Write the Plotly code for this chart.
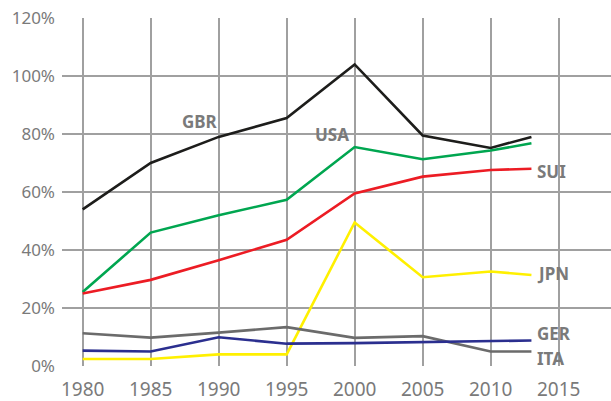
import plotly.graph_objects as go

years = [1980, 1985, 1990, 1995, 2000, 2005, 2010, 2013]
gbr = [54, 70, 79, 85.5, 104, 79.5, 75.2, 79]
usa = [25.5, 46, 52, 57.3, 75.5, 71.3, 74.3, 76.8]
sui = [25, 29.7, 36.5, 43.5, 59.5, 65.3, 67.6, 68]
jpn = [2.4, 2.4, 4.0, 4.0, 49.5, 30.6, 32.6, 31.4]
ita = [11.3, 9.8, 11.5, 13.4, 9.7, 10.3, 5.0, 5.0]
ger = [5.3, 5.0, 9.9, 7.7, 7.9, 8.2, 8.6, 8.8]

series = [
    ("GBR", gbr, "#1d1d1b"),
    ("USA", usa, "#00a650"),
    ("SUI", sui, "#ec1c24"),
    ("JPN", jpn, "#fff000"),
    ("ITA", ita, "#6b6b6b"),
    ("GER", ger, "#2b2f8f"),
]

labels = [
    ("GBR", 1988.66, 84.3, "center", "middle"),
    ("USA", 1998.3, 79.8, "center", "middle"),
    ("SUI", 2013.3, 67.1, "left", "middle"),
    ("JPN", 2013.3, 31.8, "left", "middle"),
    ("GER", 2013.3, 6.9, "left", "bottom"),
    ("ITA", 2013.3, 6.9, "left", "top"),
]

fig = go.Figure()
for name, vals, col in series:
    fig.add_trace(go.Scatter(x=years, y=vals, mode="lines", name=name,
                             line=dict(color=col, width=2.6)))

for txt, x, y, anc, vanc in labels:
    fig.add_annotation(x=x, y=y, xref="x", yref="y", text="<b>%s</b>" % txt,
                       showarrow=False, xanchor=anc, yanchor=vanc, borderpad=0,
                       font=dict(family="Noto Sans", size=17, color="#7a7a7a"))

fig.update_layout(
    width=611, height=401,
    margin=dict(l=62, r=0, t=18, b=35, autoexpand=False),
    paper_bgcolor="white", plot_bgcolor="white",
    showlegend=False,
    font=dict(family="Noto Sans", color="#7a7a7a"),
)
fig.update_xaxes(range=[1978.48, 2018.85], tickvals=[1980, 1985, 1990, 1995, 2000, 2005, 2010, 2015],
                 showgrid=True, gridcolor="#a0a0a0", gridwidth=1.5, zeroline=False,
                 showline=False, ticks="", tickfont=dict(size=19, color="#7a7a7a"),
                 ticklabelstandoff=10, automargin=False)
fig.update_yaxes(range=[0, 120], tickvals=[0, 20, 40, 60, 80, 100, 120],
                 ticktext=["0%", "20%", "40%", "60%", "80%", "100%", "120%"],
                 showgrid=True, gridcolor="#a0a0a0", gridwidth=1.5, zeroline=False,
                 showline=False, ticks="", tickfont=dict(size=17, color="#7a7a7a"),
                 ticklabelstandoff=6, automargin=False)

fig.write_html("out.html", config={"displayModeBar": False},
               post_script="document.body.style.margin='0';document.body.style.overflow='hidden';")
